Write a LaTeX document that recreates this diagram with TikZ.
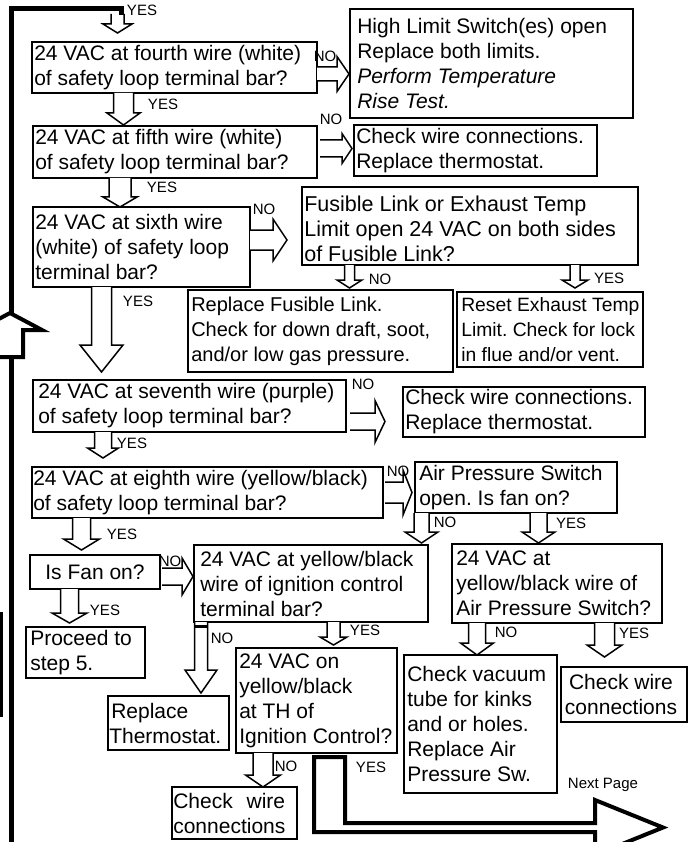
\documentclass[tikz,border=0pt]{standalone}
\usepackage{fontspec}
\setmainfont{Liberation Sans}
\frenchspacing
\usetikzlibrary{fit}
\tikzset{
  boxst/.style={draw, line width=1.8pt, inner sep=0pt},
  txt/.style={inner sep=0pt, align=left, font=\fontsize{21}{25}\selectfont, anchor=west},
  ctxt/.style={inner sep=0pt, align=center, font=\fontsize{21}{25}\selectfont},
  lbl/.style={inner sep=0pt, font=\fontsize{15}{16}\selectfont},
  barrow/.style={draw, fill=white, line width=1.5pt, line join=miter},
  thickarrow/.style={draw, fill=white, line width=4pt, line join=miter},
}
% box: name, x1, y1, x2, y2
\newcommand{\bx}[5]{\node[boxst, fit={(#2,#3) (#4,#5)}] (#1) {};}
% down arrow: x, ytop, ytip, shaft half width, head half width, head length
\newcommand{\dnarrow}[6]{%
  \draw[barrow] (#1-#4,#2) -- (#1-#4,#3-#6) -- (#1-#5,#3-#6) -- (#1,#3) -- (#1+#5,#3-#6) -- (#1+#4,#3-#6) -- (#1+#4,#2);}
% right arrow: xstart, y, xtip, shaft half width, head half width, head length
\newcommand{\rtarrow}[6]{%
  \draw[barrow] (#1,#2-#4) -- (#3-#6,#2-#4) -- (#3-#6,#2-#5) -- (#3,#2) -- (#3-#6,#2+#5) -- (#3-#6,#2+#4) -- (#1,#2+#4);}
\begin{document}
\begin{tikzpicture}[x=1pt,y=-1pt]
\useasboundingbox (0,0) rectangle (699,842);
\clip (0,0) rectangle (699,842);

% left thick return line
\dnarrow{117.5}{14}{33}{6.5}{14.5}{9}
\draw[line width=5pt] (11,850) -- (11,8.5) -- (121.5,8.5) -- (121.5,15);
\draw[thickarrow] (10,313) -- (42,330) -- (23,330) -- (23,357) -- (-3,357) -- (-3,330) -- (-22,330) -- cycle;
\draw[line width=3pt] (1.5,612) -- (1.5,717);
\node[lbl] (l0) at (142,10) {YES};

% boxes
\bx{b1}{32}{42}{317}{93}
\bx{hl}{350}{9}{633}{118}
\bx{b2}{33}{126}{317}{178}
\bx{cw1}{354}{125}{597}{176}
\bx{b3}{33}{207}{250}{287}
\bx{fl}{302}{187}{638}{265}
\bx{rfl}{188}{290}{453}{372}
\bx{ret}{457}{292}{643}{367}
\bx{b4}{33}{380}{346}{432}
\bx{cw2}{403}{387}{645}{437}
\bx{b5}{32}{467}{383}{518}
\bx{aps}{415}{462}{617}{513}
\bx{fan}{30}{555}{160}{589}
\bx{ign}{194}{545}{428}{622}
\bx{aps2}{452}{544}{662}{623}
\bx{pro}{26}{627}{145}{678}
\bx{rth}{108}{696}{229}{750}
\bx{th}{236}{648}{397}{753}
\bx{cvt}{404}{655}{557}{793}
\bx{cw3}{561}{667}{687}{722}
\bx{cwc}{172}{787}{297}{839}

% texts
\node[txt] (b1t) at ([xshift=3pt]b1.west) {24 VAC at fourth wire (white)\\of safety loop terminal bar?};
\node[txt] (hlt) at ([xshift=8pt]hl.west) {High Limit Switch(es) open\\Replace both limits.\\\textit{Perform Temperature}\\\textit{Rise Test.}};
\node[txt] (b2t) at ([xshift=3pt]b2.west) {24 VAC at fifth wire (white)\\of safety loop terminal bar?};
\node[txt] (cw1t) at ([xshift=3pt]cw1.west) {Check wire connections.\\Replace thermostat.};
\node[txt] (b3t) at ([xshift=3pt]b3.west) {24 VAC at sixth wire\\(white) of safety loop\\terminal bar?};
\node[txt, font=\fontsize{21.5}{25}\selectfont] (flt) at ([xshift=3pt,yshift=-3pt]fl.west) {Fusible Link or Exhaust Temp\\Limit open 24 VAC on both sides\\of Fusible Link?};
\node[txt, font=\fontsize{20}{25}\selectfont] (rflt) at ([xshift=4pt]rfl.west) {Replace Fusible Link.\\Check for down draft, soot,\\and/or low gas pressure.};
\node[txt, font=\fontsize{19.3}{25}\selectfont] (rett) at ([xshift=5pt]ret.west) {Reset Exhaust Temp\\Limit. Check for lock\\in flue and/or vent.};
\node[txt] (b4t) at ([xshift=6pt]b4.west) {24 VAC at seventh wire (purple)\\of safety loop terminal bar?};
\node[txt] (cw2t) at ([xshift=3pt]cw2.west) {Check wire connections.\\Replace thermostat.};
\node[txt] (b5t) at ([xshift=2pt]b5.west) {24 VAC at eighth wire (yellow/black)\\of safety loop terminal bar?};
\node[txt] (apst) at ([xshift=5pt]aps.west) {Air Pressure Switch\\open. Is fan on?};
\node[ctxt] (fant) at (fan.center) {Is Fan on?};
\node[txt] (ignt) at ([xshift=7pt]ign.west) {24 VAC at yellow/black\\wire of ignition control\\terminal bar?};
\node[txt] (aps2t) at ([xshift=5pt]aps2.west) {24 VAC at\\yellow/black wire of\\Air Pressure Switch?};
\node[txt] (prot) at ([xshift=5pt]pro.west) {Proceed to\\step 5.};
\node[txt] (rtht) at ([xshift=2pt]rth.west) {\hspace{2pt}Replace\\Thermostat.};
\node[txt] (tht) at ([xshift=4pt]th.west) {24 VAC on\\yellow/black\\at TH of\\Ignition Control?};
\node[txt] (cvtt) at ([xshift=4pt]cvt.west) {Check vacuum\\tube for kinks\\and or holes.\\Replace Air\\Pressure Sw.};
\node[ctxt] (cw3t) at ([xshift=-3pt]cw3.center) {Check wire\\connections};
\node[txt] (cwct) at ([xshift=2pt]cwc.west) {Check\hspace{8pt} wire\\connections};

% down arrows
\dnarrow{123.5}{93}{125}{10}{16.5}{12}
\dnarrow{120}{178}{207}{11}{17}{10}
\dnarrow{101.5}{287}{372}{10}{21.5}{27}
\dnarrow{103}{432}{458}{8.5}{15.5}{10}
\dnarrow{81.5}{518}{550}{9}{18}{11}
\dnarrow{69.5}{589}{623}{9}{17.5}{10}
\dnarrow{201}{622}{693}{6.5}{16}{23}
\draw[line width=3pt] (194.5,626) -- (207.5,626);
\dnarrow{333.5}{622}{645}{6.5}{13.5}{8}
\dnarrow{263}{753}{787}{10}{17.5}{12}
\dnarrow{349.5}{265}{288}{5}{12.5}{8}
\dnarrow{575}{265}{288}{5}{13}{8}
\dnarrow{421.5}{513}{543}{7.5}{16.5}{11}
\dnarrow{538.5}{513}{543}{8.5}{16.5}{11}
\dnarrow{477}{623}{655}{8.5}{16.5}{12}
\dnarrow{604.5}{623}{657}{10}{17.5}{12}

% right arrows
\rtarrow{317}{74}{349}{7}{17.5}{12}
\rtarrow{320}{148.5}{352}{8.5}{15}{10}
\rtarrow{250}{240}{287}{10}{21}{14}
\rtarrow{350}{421.5}{385}{8.5}{21}{10}
\rtarrow{385}{492.5}{412}{10.5}{22.5}{9}
\rtarrow{162}{576.5}{193}{8.5}{18.5}{11}

% big L arrow to next page
\draw[thickarrow] (314,757) -- (345,757) -- (345,823) -- (595,823) -- (595,800) -- (663,827.5) -- (595,855) -- (595,832) -- (314,832) -- cycle;

% labels
\node[lbl] (l1) at (325,56) {NO};
\node[lbl] (l2) at (163,104) {YES};
\node[lbl] (l3) at (331,119) {NO};
\node[lbl] (l4) at (162,187) {YES};
\node[lbl] (l5) at (264,209) {NO};
\node[lbl] (l6) at (380,279) {NO};
\node[lbl] (l7) at (609,278) {YES};
\node[lbl] (l8) at (138,301) {YES};
\node[lbl] (l9) at (363,384) {NO};
\node[lbl] (l10) at (132,443) {YES};
\node[lbl] (l11) at (398,471) {NO};
\node[lbl] (l12) at (445,522) {NO};
\node[lbl] (l13) at (571,523) {YES};
\node[lbl] (l14) at (122,534) {YES};
\node[lbl] (l15) at (170,561) {NO};
\node[lbl] (l16) at (105,610) {YES};
\node[lbl] (l17) at (222,638) {NO};
\node[lbl] (l18) at (365,630) {YES};
\node[lbl] (l19) at (506,632) {NO};
\node[lbl] (l20) at (634,633) {YES};
\node[lbl] (l21) at (286,766) {NO};
\node[lbl] (l22) at (371,767) {YES};
\node[lbl] (l23) at (603,785) {Next Page};
\end{tikzpicture}
\end{document}
